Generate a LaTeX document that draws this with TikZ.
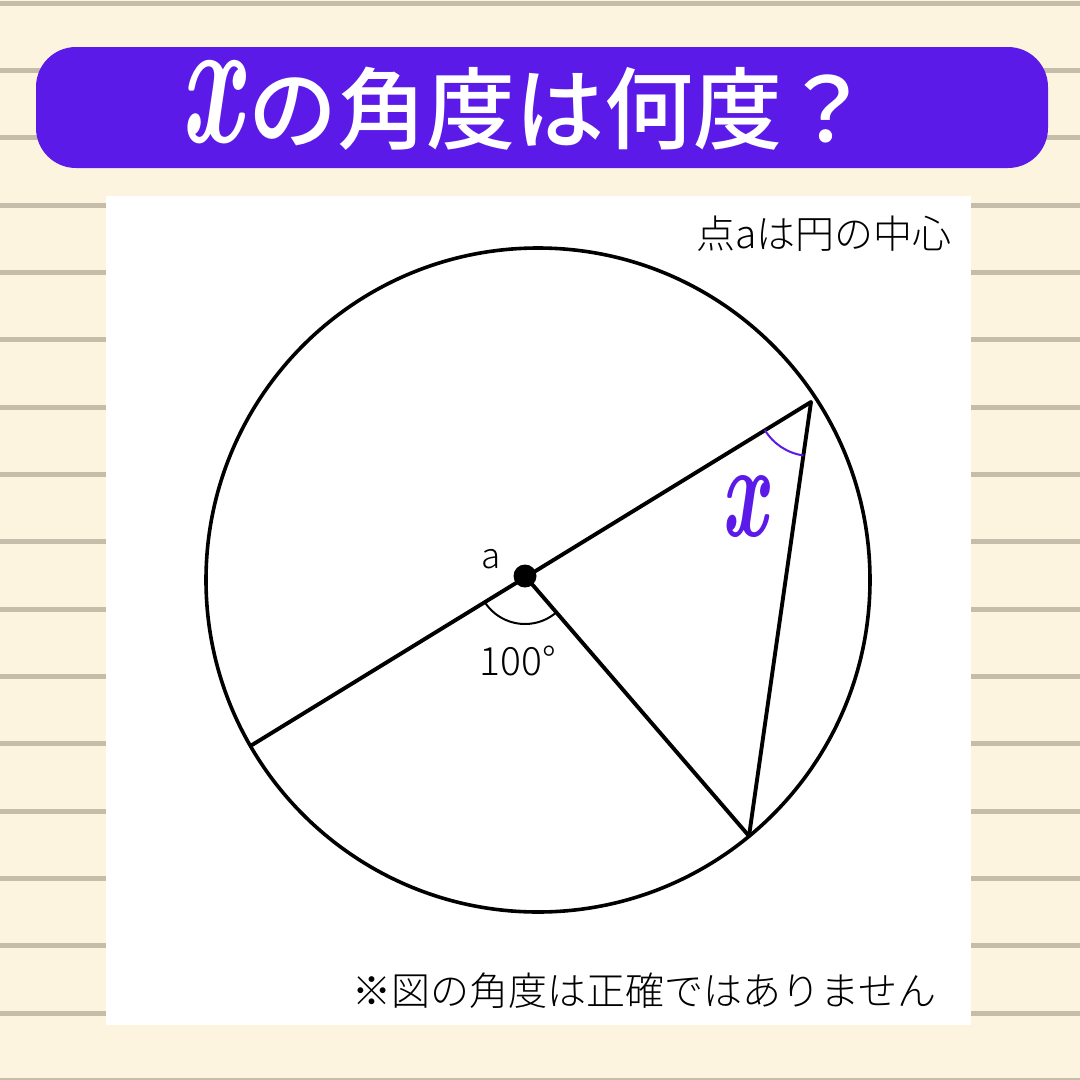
\documentclass[tikz,border=0pt]{standalone}
\usepackage{graphicx}
\usepackage{fontspec}
\newfontfamily\jpfont{Noto Sans CJK JP}
\IfFontExistsTF{Noto Sans CJK JP Medium}
  {\newfontfamily\jpmedium{Noto Sans CJK JP Medium}}
  {\newfontfamily\jpmedium{Noto Sans CJK JP}[FakeBold=1.5]}
\IfFontExistsTF{Noto Sans CJK JP Light}
  {\newfontfamily\jplight{Noto Sans CJK JP Light}}
  {\IfFontExistsTF{Noto Sans CJK JP DemiLight}
    {\newfontfamily\jplight{Noto Sans CJK JP DemiLight}}
    {\newfontfamily\jplight{Noto Sans CJK JP}}}
\newfontfamily\xfont{Latin Modern Roman}
\usetikzlibrary{calc}
\definecolor{paper}{HTML}{FDF4E0}
\definecolor{ruling}{HTML}{C5BCA9}
\definecolor{titlepurple}{HTML}{5B1AE8}

\begin{document}
\begin{tikzpicture}[x=1pt,y=-1pt,
  ruleline/.style={draw=ruling,line width=5pt},
  edge/.style={line width=3.9pt,line cap=round},
  anglemark/.style={line width=2pt},
  small label/.style={font=\jplight\fontsize{39}{41}\selectfont,inner sep=0},
  note/.style={small label,anchor=base east},
]
  % paper and ruling
  \fill[paper] (0,0) rectangle (1080,1080);
  \useasboundingbox (0,0) rectangle (1080,1080);
  \foreach \k in {0,...,16}
    \draw[ruleline] (0,3+67.35*\k) -- (1080,3+67.35*\k);

  % title banner
  \fill[titlepurple,rounded corners=40pt] (36,47) rectangle (1048,168);
  \node[anchor=base west,inner sep=0,text=white,
        font=\jpmedium\fontsize{89}{92}\selectfont] (title) at (180,142)
    {{\xfont\bfseries\itshape\fontsize{182}{182}\selectfont\scalebox{0.6}[1]{x\/}}\kern2pt の角度は何度？};

  % white panel
  \fill[white] (106,196) rectangle (971,1025);

  % circle and chords
  \coordinate (O) at (538,580);
  \coordinate (P) at (252,745);
  \coordinate (B) at (811,402);
  \coordinate (C) at (749,836);
  \draw[line width=3.6pt] (O) circle[radius=332];
  \node[circle,fill,inner sep=0,minimum size=23pt] (centre) at (525,576) {};
  \draw[edge] (P) -- (B);
  \draw[edge] (centre.center) -- (C);
  \draw[edge] (B) -- (C);

  % angle marks
  \draw[anglemark] ([shift={(49.3:48)}]centre.center) arc[start angle=49.3,end angle=148.2,radius=48];
  \draw[anglemark,titlepurple] ([shift={(98.1:54)}]B) arc[start angle=98.1,end angle=148.7,radius=54];

  % labels
  \node[small label,font=\jplight\fontsize{35}{37}\selectfont] (alabel) at (491,559) {a};
  \node[small label] (angle) at (518,661) {100°};
  \node[inner sep=0,text=titlepurple,font=\xfont\bfseries\itshape\fontsize{135}{135}\selectfont] (xlabel) at (746,507)
    {\scalebox{0.6}[1]{x\/}};
  \node[note] (centrenote) at (952,248) {点aは円の中心};
  \node[note] (disclaimer) at (937,1005) {※図の角度は正確ではありません};
\end{tikzpicture}
\end{document}
